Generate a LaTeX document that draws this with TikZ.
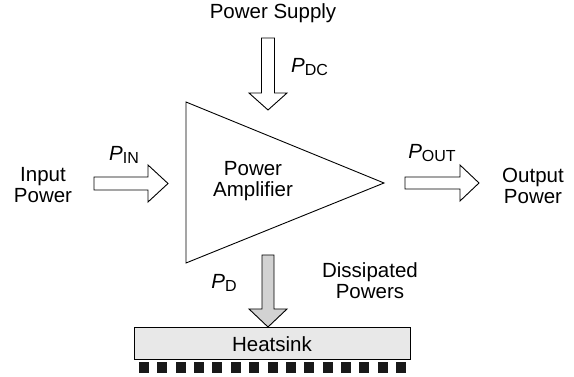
\documentclass[tikz,border=0pt]{standalone}
\usepackage{fontspec}
\setmainfont{Liberation Sans}
\begin{document}
\begin{tikzpicture}[x=1pt,y=-1pt,
  lbl/.style={font=\fontsize{20.5}{21}\selectfont, align=center, inner sep=0pt},
  blk/.style={draw=black, line width=0.9pt, line join=miter, fill=white},
  pdarrow/.style={blk, fill=gray!35},
  fin/.style={fill=black!90, draw=none}]
\useasboundingbox (0,0) rectangle (574,377);
% amplifier
\draw[line width=0.9pt, line join=miter] (186,102) -- (186,263) -- (384,183) -- cycle;
\node[lbl] (amp) at (253,181) {Power\\Amplifier};
% labels
\node[lbl] (supply) at (273,13) {Power Supply};
\node[lbl] (inp) at (43,185) {Input\\Power};
\node[lbl] (outp) at (533,186) {Output\\Power};
\node[lbl] (diss) at (370,281) {Dissipated\\Powers};
\newcommand{\pw}[1]{\textit{P}\raisebox{-0.35ex}{\fontsize{16}{16}\selectfont #1}}
\node[lbl, anchor=west] (pdc) at (291,67) {\pw{DC}};
\node[lbl] (pin) at (124,155) {\pw{IN}};
\node[lbl] (pout) at (432,153) {\pw{OUT}};
\node[lbl] (pd) at (224,283) {\pw{D}};
% block arrows
\draw[blk] (94,177) -- (148,177) -- (148,165) -- (168,183.5) -- (148,202) -- (148,190) -- (94,190) -- cycle;
\draw[blk] (405,177) -- (460,177) -- (460,165) -- (479,183) -- (460,201) -- (460,189) -- (405,189) -- cycle;
\draw[blk] (261.5,38) -- (274.5,38) -- (274.5,93) -- (287,93) -- (268,110) -- (249,93) -- (261.5,93) -- cycle;
\draw[pdarrow] (262,255) -- (274,255) -- (274,309) -- (287,309) -- (268,327) -- (249,309) -- (262,309) -- cycle;
% heatsink
\draw[line width=0.9pt, fill=gray!18] (134,327) rectangle (410,359);
\node[lbl] (hs) at (272,344) {Heatsink};
\foreach \i in {0,...,14} {
  \fill[fin] ({139+18.36*\i},362) rectangle ({149+18.36*\i},373);
}
\end{tikzpicture}
\end{document}
